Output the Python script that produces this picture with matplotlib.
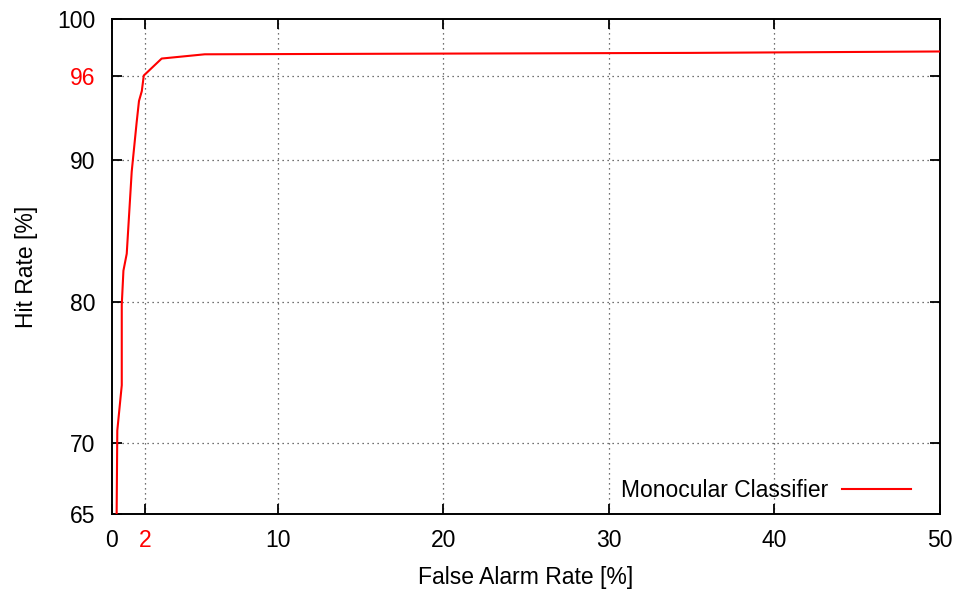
import numpy as np
import matplotlib
matplotlib.use("Agg")
import matplotlib.pyplot as plt

# ROC curve
false_alarm = [0.28, 0.32, 0.59, 0.59, 0.69, 0.89, 1.19, 1.49, 1.63, 1.80, 1.92, 3.0, 5.6, 20.0, 35.0, 50.0]
hit_rate = [65.0, 70.9, 74.1, 79.8, 82.2, 83.4, 89.2, 92.7, 94.2, 94.9, 96.0, 97.2, 97.5, 97.55, 97.6, 97.7]

x_ticks = [0, 2, 10, 20, 30, 40, 50]
y_ticks = [65, 70, 80, 90, 96, 100]
x_grid = [2, 10, 20, 30, 40]
y_grid = [70, 80, 90, 96]
highlight = {"x": 2, "y": 96}

plt.rcParams["font.family"] = ["Liberation Sans", "DejaVu Sans"]
plt.rcParams["font.size"] = 16.5

fig = plt.figure(figsize=(9.63, 5.92), dpi=100)
ax = fig.add_axes([0.1163, 0.1318, 0.976 - 0.1163, 0.968 - 0.1318])

ax.plot(false_alarm, hit_rate, color="#ff0000", lw=1.5, label="Monocular Classifier", zorder=3)

for gx in x_grid:
    ax.axvline(gx, color="#444444", lw=0.9, ls=(0, (1, 3)), zorder=1)
for gy in y_grid:
    ax.axhline(gy, color="#444444", lw=0.9, ls=(0, (1, 3)), zorder=1)

ax.set_xlim(0, 50)
ax.set_ylim(65, 100)
ax.set_xticks(x_ticks)
ax.set_yticks(y_ticks)
ax.tick_params(direction="in", length=7, width=1.3, top=True, right=True)
ax.tick_params(axis="x", pad=11)
ax.tick_params(axis="y", pad=12)
for lbl in ax.get_xticklabels():
    if lbl.get_text() == str(highlight["x"]):
        lbl.set_color("#ff0000")
for lbl in ax.get_yticklabels():
    if lbl.get_text() == str(highlight["y"]):
        lbl.set_color("#ff0000")
for sp in ax.spines.values():
    sp.set_linewidth(1.4)

ax.set_xlabel("False Alarm Rate [%]", labelpad=10)
ax.set_ylabel("Hit Rate [%]", labelpad=14)

ax.legend(loc="lower right", bbox_to_anchor=(0.976, 0.005), frameon=False,
          markerfirst=False, handlelength=3.0, borderaxespad=0, handletextpad=0.6)

fig.savefig("out.png", dpi=100)
